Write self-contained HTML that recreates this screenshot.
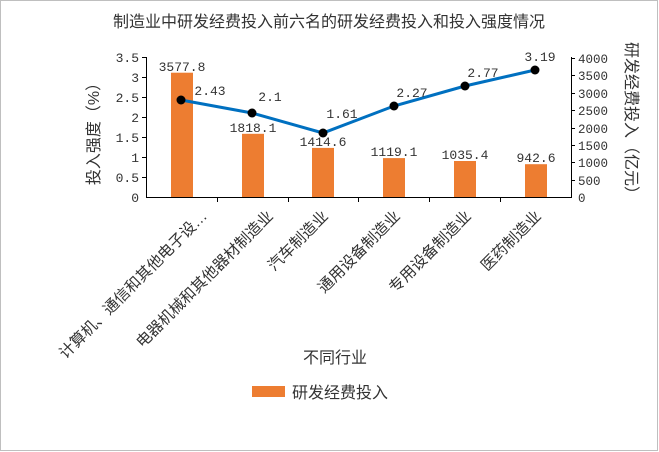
<!DOCTYPE html>
<html><head><meta charset="utf-8"><style>
html,body{margin:0;padding:0;background:#fff}
svg{display:block}
text{font-family:"Liberation Sans","Noto Sans CJK SC",sans-serif;fill:#333}
.n{font-family:"Liberation Mono","Noto Sans CJK SC",monospace}
</style></head><body>
<svg width="659" height="452" viewBox="0 0 659 452" xmlns="http://www.w3.org/2000/svg">
<rect x="0.5" y="0.5" width="657" height="450" fill="#fff" stroke="#bfbfbf"/>
<text x="329" y="27" font-size="16" text-anchor="middle">制造业中研发经费投入前六名的研发经费投入和投入强度情况</text>
<g fill="#ed7d31">
<rect x="171" y="72.7" width="22" height="124.3"/>
<rect x="242" y="133.8" width="22" height="63.2"/>
<rect x="312" y="147.9" width="22" height="49.1"/>
<rect x="383" y="158.1" width="22" height="38.9"/>
<rect x="454" y="161" width="22" height="36"/>
<rect x="525" y="164.2" width="22" height="32.8"/>
</g>
<g stroke="#000" stroke-width="1">
<line x1="146.5" y1="57" x2="146.5" y2="197.5"/>
<line x1="571.5" y1="57" x2="571.5" y2="197.5"/>
<line x1="146" y1="197.5" x2="572" y2="197.5"/>
<line x1="142" y1="57.5" x2="146" y2="57.5"/><line x1="142" y1="77.5" x2="146" y2="77.5"/><line x1="142" y1="97.5" x2="146" y2="97.5"/><line x1="142" y1="117.5" x2="146" y2="117.5"/><line x1="142" y1="137.5" x2="146" y2="137.5"/><line x1="142" y1="157.5" x2="146" y2="157.5"/><line x1="142" y1="177.5" x2="146" y2="177.5"/>
<line x1="571" y1="58.5" x2="575" y2="58.5"/><line x1="571" y1="75.5" x2="575" y2="75.5"/><line x1="571" y1="93.5" x2="575" y2="93.5"/><line x1="571" y1="110.5" x2="575" y2="110.5"/><line x1="571" y1="128.5" x2="575" y2="128.5"/><line x1="571" y1="145.5" x2="575" y2="145.5"/><line x1="571" y1="162.5" x2="575" y2="162.5"/><line x1="571" y1="180.5" x2="575" y2="180.5"/>
<line x1="217.5" y1="197" x2="217.5" y2="202"/><line x1="288.5" y1="197" x2="288.5" y2="202"/><line x1="358.5" y1="197" x2="358.5" y2="202"/><line x1="429.5" y1="197" x2="429.5" y2="202"/><line x1="500.5" y1="197" x2="500.5" y2="202"/>
</g>
<g font-size="13" text-anchor="end">
<text class="n" x="139" y="62">3.5</text><text class="n" x="139" y="82">3</text><text class="n" x="139" y="102">2.5</text><text class="n" x="139" y="122">2</text><text class="n" x="139" y="142">1.5</text><text class="n" x="139" y="162">1</text><text class="n" x="139" y="182">0.5</text><text class="n" x="139" y="202">0</text>
</g>
<g font-size="12.5">
<text class="n" x="578" y="63">4000</text><text class="n" x="578" y="80">3500</text><text class="n" x="578" y="98">3000</text><text class="n" x="578" y="115">2500</text><text class="n" x="578" y="133">2000</text><text class="n" x="578" y="150">1500</text><text class="n" x="578" y="167">1000</text><text class="n" x="578" y="185">500</text><text class="n" x="578" y="202">0</text>
</g>
<text font-size="16" transform="translate(99,130) rotate(-90)" text-anchor="middle">投入强度（%）</text>
<text font-size="16" transform="translate(626,122) rotate(90)" text-anchor="middle">研发经费投入（亿元）</text>
<polyline points="181,100 252,113 323,133 394,106 465,86 535,70" fill="none" stroke="#0070c0" stroke-width="3"/>
<g fill="#000">
<circle cx="181" cy="100" r="4.5"/><circle cx="252" cy="113" r="4.5"/><circle cx="323" cy="133" r="4.5"/><circle cx="394" cy="106" r="4.5"/><circle cx="465" cy="86" r="4.5"/><circle cx="535" cy="70" r="4.5"/>
</g>
<g font-size="13" text-anchor="middle">
<text class="n" x="182" y="71">3577.8</text>
<text class="n" x="253" y="132">1818.1</text>
<text class="n" x="323" y="146">1414.6</text>
<text class="n" x="394" y="156">1119.1</text>
<text class="n" x="465" y="159">1035.4</text>
<text class="n" x="536" y="162">942.6</text>
<text class="n" x="210" y="95">2.43</text>
<text class="n" x="270" y="101">2.1</text>
<text class="n" x="342" y="118">1.61</text>
<text class="n" x="412" y="97">2.27</text>
<text class="n" x="483" y="77">2.77</text>
<text class="n" x="540" y="61">3.19</text>
</g>
<g font-size="15.5" text-anchor="end">
<text transform="translate(208,217) rotate(-45)">计算机、通信和其他电子设…</text>
<text transform="translate(274,217) rotate(-45)">电器机械和其他器材制造业</text>
<text transform="translate(329,217) rotate(-45)">汽车制造业</text>
<text transform="translate(401,217) rotate(-45)">通用设备制造业</text>
<text transform="translate(472,217) rotate(-45)">专用设备制造业</text>
<text transform="translate(542,217) rotate(-45)">医药制造业</text>
</g>
<text x="335" y="363" font-size="16" text-anchor="middle">不同行业</text>
<rect x="252" y="386" width="33" height="11" fill="#ed7d31"/>
<text x="292" y="398" font-size="16">研发经费投入</text>
</svg>
</body></html>
